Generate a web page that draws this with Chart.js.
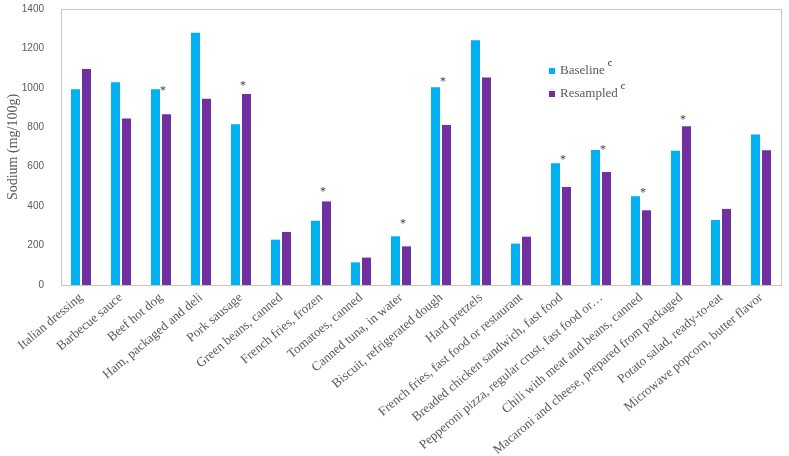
<!DOCTYPE html>
<html>
<head>
<meta charset="utf-8">
<script src="https://cdn.jsdelivr.net/npm/chart.js@4"></script>
<style>
  html, body { margin: 0; padding: 0; background: #fff; }
  #wrap { width: 789px; height: 456px; }
</style>
</head>
<body>
<div id="wrap"><canvas id="sodiumChart" width="789" height="456"></canvas></div>
<script>
// chart data
const categories = [
  'Italian dressing', 'Barbecue sauce', 'Beef hot dog', 'Ham, packaged and deli',
  'Pork sausage', 'Green beans, canned', 'French fries, frozen', 'Tomatoes, canned',
  'Canned tuna, in water', 'Biscuit, refrigerated dough', 'Hard pretzels',
  'French fries, fast food or restaurant', 'Breaded chicken sandwich, fast food',
  'Pepperoni pizza, regular crust, fast food or\u2026', 'Chili with meat and beans, canned',
  'Macaroni and cheese, prepared from packaged', 'Potato salad, ready-to-eat',
  'Microwave popcorn, butter flavor'
];
const baseline  = [993, 1028, 993, 1280, 815, 230, 326, 115, 247, 1003, 1241, 210, 617, 685, 450, 681, 330, 764];
const resampled = [1096, 844, 866, 945, 969, 269, 424, 139, 196, 812, 1053, 245, 497, 573, 379, 805, 386, 683];
// height (in mg/100g) where the significance asterisk sits, null = none
const starAt = [null, null, 1006, null, 1030, null, 494, null, 330, 1050, null, null, 656, 707, 485, 859, null, null];
const yTicks = [0, 200, 400, 600, 800, 1000, 1200, 1400];

const BLUE = '#00B0F0';
const PURPLE = '#7030A0';
const GREY_TEXT = '#595959';
const SERIF = '"Liberation Serif", "DejaVu Serif", serif';

// border box around the plot area
const frameBox = {
  id: 'frameBox',
  beforeDatasetsDraw(chart) {
    const { ctx, chartArea: a } = chart;
    ctx.save();
    ctx.strokeStyle = '#C6C6C6';
    ctx.lineWidth = 1;
    ctx.strokeRect(a.left + 0.5, a.top + 0.5, a.right - a.left, a.bottom - a.top);
    ctx.restore();
  }
};

// asterisks over the significant pairs
const stars = {
  id: 'stars',
  afterDatasetsDraw(chart) {
    const { ctx, scales } = chart;
    ctx.save();
    ctx.fillStyle = '#404040';
    ctx.font = '12px ' + SERIF;
    ctx.textAlign = 'center';
    ctx.textBaseline = 'alphabetic';
    starAt.forEach((v, i) => {
      if (v === null) return;
      const x = scales.x.getPixelForValue(i) + 2;
      const y = scales.y.getPixelForValue(v);
      ctx.fillText('*', x, y + 7);
    });
    ctx.restore();
  }
};

// legend with superscript "c"
const supLegend = {
  id: 'supLegend',
  afterDraw(chart) {
    const { ctx, chartArea: a } = chart;
    const items = [
      { text: 'Baseline', color: BLUE, dy: 0 },
      { text: 'Resampled', color: PURPLE, dy: 23 }
    ];
    ctx.save();
    items.forEach(it => {
      const x = a.left + 488;
      const y = a.top + 65 + it.dy;
      ctx.fillStyle = it.color;
      ctx.fillRect(x, y - 6, 6, 6);
      ctx.font = '13px ' + SERIF;
      ctx.fillStyle = GREY_TEXT;
      ctx.textBaseline = 'alphabetic';
      ctx.textAlign = 'left';
      ctx.fillText(it.text, x + 11, y);
      const w = ctx.measureText(it.text).width;
      ctx.font = '10px ' + SERIF;
      ctx.fillStyle = '#222';
      ctx.fillText('c', x + 11 + w + 3, y - 8);
    });
    ctx.restore();
  }
};

const ctx = document.getElementById('sodiumChart').getContext('2d');
new Chart(ctx, {
  type: 'bar',
  data: {
    labels: categories,
    datasets: [
      { label: 'Baseline', data: baseline, backgroundColor: BLUE },
      { label: 'Resampled', data: resampled, backgroundColor: PURPLE }
    ]
  },
  options: {
    responsive: false,
    animation: false,
    layout: { padding: { top: 9, right: 8, left: 0, bottom: 0 } },
    datasets: {
      bar: { categoryPercentage: 0.55, barPercentage: 0.82 }
    },
    plugins: {
      legend: { display: false },
      tooltip: { enabled: false }
    },
    scales: {
      x: {
        grid: { display: false, drawTicks: false },
        border: { display: true, color: '#C6C6C6' },
        ticks: {
          autoSkip: false,
          minRotation: 40,
          maxRotation: 40,
          padding: 5,
          color: GREY_TEXT,
          font: { family: SERIF, size: 13 }
        },
        afterFit(scale) {
          scale.height = 171;
          scale.paddingTop = 0;
          scale.paddingRight = 0;
        }
      },
      y: {
        min: 0,
        max: 1400,
        afterBuildTicks(scale) { scale.ticks = yTicks.map(v => ({ value: v })); },
        grid: { display: false, drawTicks: false },
        border: { display: true, color: '#C6C6C6' },
        ticks: {
          padding: 17,
          color: GREY_TEXT,
          font: { family: '"Liberation Sans", Arial, sans-serif', size: 10 },
          callback: v => String(v)
        },
        title: {
          display: true,
          text: 'Sodium (mg/100g)',
          color: GREY_TEXT,
          padding: { top: 5, bottom: 0 },
          font: { family: SERIF, size: 14 }
        },
        afterFit(scale) {
          scale.width = 61;
          scale.paddingTop = 0;
          scale.paddingBottom = 0;
        }
      }
    }
  },
  plugins: [frameBox, stars, supLegend]
});
</script>
</body>
</html>
